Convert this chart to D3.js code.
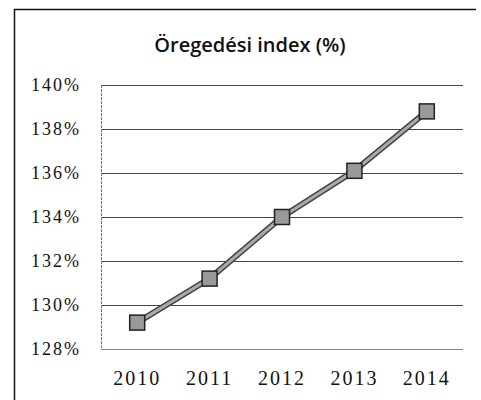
<!DOCTYPE html>
<html><head><meta charset="utf-8">
<script src="https://cdn.jsdelivr.net/npm/d3@7"></script>
<style>body{margin:0;background:#fff}</style>
</head><body>
<script>
const title = "Öregedési index (%)";
const years = ["2010","2011","2012","2013","2014"];
const values = [129.2, 131.2, 134.0, 136.1, 138.8];
const yTicks = [128,130,132,134,136,138,140];

const W=481,H=400;
const svg=d3.select("body").append("svg").attr("width",W).attr("height",H);
svg.append("rect").attr("width",W).attr("height",H).attr("fill","#fff");

// outer frame (left + top)
svg.append("path").attr("d",`M14.5,400 L14.5,9.5 L476,9.5`).attr("fill","none").attr("stroke","#111").attr("stroke-width",1.5);

const x=d3.scaleBand().domain(years).range([101,463]);
const y=d3.scaleLinear().domain([128,140]).range([349,85]);

// gridlines
svg.append("g").selectAll("line").data(yTicks).join("line")
 .attr("x1",101).attr("x2",463).attr("y1",d=>Math.round(y(d))+0.5).attr("y2",d=>Math.round(y(d))+0.5)
 .attr("stroke",d=>d===128?"#888":"#444").attr("stroke-width",1);
svg.append("line").attr("x1",101.5).attr("x2",101.5).attr("y1",85).attr("y2",349).attr("stroke","#777").attr("stroke-dasharray","3,1");

// y axis labels
const yAxis=d3.axisLeft(y).tickValues(yTicks).tickFormat(d=>d+"%").tickSize(0).tickPadding(20);
const gy=svg.append("g").attr("transform","translate(101,0)").call(yAxis);
gy.select(".domain").remove();
gy.selectAll("text").attr("font-family","Liberation Serif").attr("font-size",18).attr("fill","#111").attr("letter-spacing","2px");

// x axis labels
const xAxis=d3.axisBottom(x).tickSize(0).tickPadding(22);
const gx=svg.append("g").attr("transform","translate(0,349)").call(xAxis);
gx.select(".domain").remove();
gx.selectAll("text").attr("font-family","Liberation Serif").attr("font-size",20).attr("fill","#111").attr("letter-spacing","2px");

// title
svg.append("text").attr("x",250).attr("y",52).attr("text-anchor","middle")
 .attr("font-family","Open Sans").attr("font-weight",600).attr("font-size",20).attr("fill","#111").text(title);

// line
const line=d3.line().x((d,i)=>x(years[i])+x.bandwidth()/2).y(d=>y(d));
svg.append("path").datum(values).attr("d",line).attr("fill","none").attr("stroke","#444").attr("stroke-width",6);
svg.append("path").datum(values).attr("d",line).attr("fill","none").attr("stroke","#aaa").attr("stroke-width",3);

// markers
const s=15;
svg.append("g").selectAll("rect").data(values).join("rect")
 .attr("x",(d,i)=>x(years[i])+x.bandwidth()/2-s/2).attr("y",d=>y(d)-s/2)
 .attr("width",s).attr("height",s).attr("fill","#999").attr("stroke","#222").attr("stroke-width",1.5);
</script>
</body></html>
